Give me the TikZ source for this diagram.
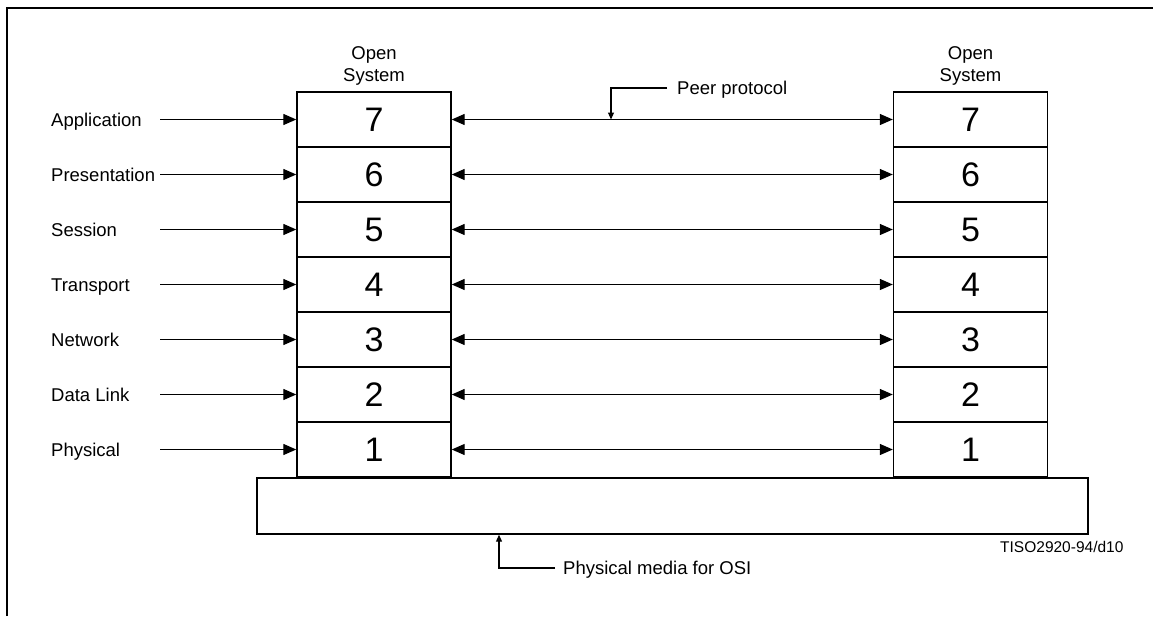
\documentclass[tikz,border=0pt]{standalone}
\usepackage{fontspec}
\setmainfont{Liberation Sans}
\usetikzlibrary{arrows.meta}
\begin{document}
\begin{tikzpicture}[x=1pt,y=-1pt,
  layer/.style={draw, line width=1.4pt, minimum width=154pt, minimum height=55pt, inner sep=0pt, font=\fontsize{34}{40}\selectfont},
  lbl/.style={anchor=base west, inner sep=0pt, font=\fontsize{18.5}{22}\selectfont},
  arr/.style={line width=1.3pt, -{Triangle[length=13pt,width=11pt]}},
  darr/.style={line width=1.3pt, {Triangle[length=13pt,width=11pt]}-{Triangle[length=13pt,width=11pt]}},
  small/.style={line width=1.2pt, -{Triangle[length=7pt,width=6pt]}}
]
\useasboundingbox (0,0) rectangle (1153,616);
\draw[line width=2.2pt] (7,616) -- (7,8) -- (1153,8);
% stacks
\foreach \n [count=\i from 0] in {7,6,5,4,3,2,1} {
  \node[layer] (L\n) at (374,119.5+55*\i) {\n};
  \node[layer] (R\n) at (970.5,119.5+55*\i) {\n};
}
\node[align=center, inner sep=0pt, font=\fontsize{18.5}{22}\selectfont] (osl) at (374,66) {Open\\System};
\node[align=center, inner sep=0pt, font=\fontsize{18.5}{22}\selectfont] (osr) at (970.5,66) {Open\\System};
% base
\node[draw, line width=1.4pt, minimum width=831pt, minimum height=56pt, inner sep=0pt] (base) at (672.5,506) {};
% labels
\coordinate (s) at (160,0);
\foreach \n/\t in {7/Application,6/Presentation,5/Session,4/Transport,3/Network,2/Data Link,1/Physical} {
  \node[lbl] (lab\n) at ([yshift=-6.6pt]51,0 |- L\n.west) {\t};
  \draw[arr] (s |- L\n.west) -- (L\n.west);
  \draw[darr] (L\n.east) -- (R\n.west);
}
% peer protocol
\node[lbl] (peer) at (677,94.6) {Peer protocol};
\coordinate (pp) at (611,0);
\coordinate (pb) at (667,88);
\draw[small] (pb) -- (pp |- pb) -- (pp |- L7.east);
% physical media
\node[lbl] (media) at (563,574.6) {Physical media for OSI};
\coordinate (pm) at (499,0);
\coordinate (mb) at (555,568);
\draw[small] (mb) -- (pm |- mb) -- (pm |- base.south);
% figure id
\node[anchor=base west, inner sep=0pt, font=\fontsize{15.5}{18}\selectfont] (fid) at (1000,552.5) {TISO2920-94/d10};
\end{tikzpicture}
\end{document}
